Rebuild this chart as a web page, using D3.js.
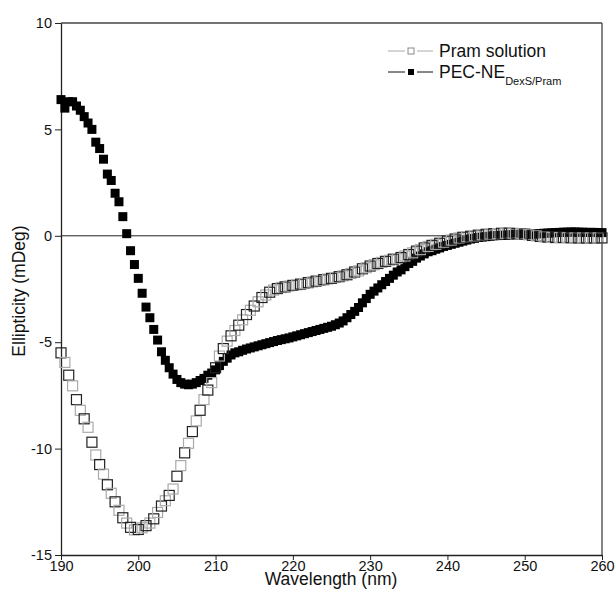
<html>
    <head>
        <meta charset="utf-8">
        <style>
            body { margin: 0; background: #fff; }
            text { font-family: "Liberation Sans", Arial, sans-serif; fill: #111; }
        </style>
        <script src="https://d3js.org/d3.v7.min.js"></script>
    </head>
    <body>
        <svg width="616" height="590"></svg>
        <script>
            // wavelength grid, one reading every 0.5 nm
            const wavelengths = d3.range(190, 260.25, 0.5);

            // PEC-NE DexS/Pram (filled squares), rows of 5 nm
            const pecValues = [
                6.4, 6.0, 6.3, 6.3, 6.1, 5.9, 5.6, 5.3, 5.0, 4.4,
                4.1, 3.6, 2.9, 2.6, 2.0, 1.6, 0.9, 0.1, -0.7, -1.35,
                -2.0, -2.7, -3.35, -3.85, -4.4, -4.9, -5.45, -5.85, -6.2, -6.5,
                -6.75, -6.9, -6.97, -7.0, -6.97, -6.9, -6.8, -6.7, -6.55, -6.45,
                -6.3, -6.1, -5.9, -5.75, -5.6, -5.5, -5.45, -5.38, -5.32, -5.27,
                -5.22, -5.17, -5.12, -5.07, -5.02, -4.97, -4.92, -4.88, -4.84, -4.8,
                -4.75, -4.7, -4.65, -4.6, -4.55, -4.5, -4.45, -4.4, -4.35, -4.3,
                -4.25, -4.18, -4.1, -4.0, -3.85, -3.7, -3.55, -3.37, -3.15, -2.95,
                -2.75, -2.6, -2.45, -2.3, -2.15, -2.0, -1.85, -1.7, -1.6, -1.45,
                -1.3, -1.2, -1.05, -0.95, -0.85, -0.75, -0.7, -0.63, -0.57, -0.5,
                -0.45, -0.4, -0.35, -0.3, -0.25, -0.2, -0.15, -0.12, -0.08, -0.06,
                -0.04, -0.02, 0.0, 0.01, 0.02, 0.03, 0.04, 0.05, 0.05, 0.06,
                0.06, 0.07, 0.08, 0.09, 0.1, 0.12, 0.13, 0.14, 0.15, 0.16,
                0.17, 0.17, 0.18, 0.18, 0.17, 0.17, 0.16, 0.16, 0.16, 0.15,
                0.15
            ];

            // Pram solution (open squares)
            const pramValues = [
                -5.5, -5.95, -6.55, -7.05, -7.7, -8.2, -8.6, -9.0, -9.7, -10.3,
                -10.75, -11.2, -11.7, -12.1, -12.5, -12.9, -13.25, -13.5, -13.7, -13.82,
                -13.8, -13.72, -13.62, -13.5, -13.3, -13.0, -12.7, -12.45, -12.2, -11.9,
                -11.3, -10.8, -10.2, -9.75, -9.2, -8.7, -8.2, -7.7, -7.25, -6.9,
                -6.2, -5.65, -5.3, -4.95, -4.7, -4.45, -4.2, -3.95, -3.7, -3.5,
                -3.3, -3.1, -2.9, -2.78, -2.65, -2.55, -2.48, -2.43, -2.4, -2.36,
                -2.33, -2.3, -2.27, -2.24, -2.2, -2.17, -2.13, -2.1, -2.06, -2.03,
                -2.0, -1.96, -1.92, -1.88, -1.83, -1.77, -1.7, -1.65, -1.55, -1.5,
                -1.42, -1.36, -1.3, -1.25, -1.2, -1.15, -1.1, -1.07, -1.02, -0.95,
                -0.88, -0.8, -0.72, -0.65, -0.57, -0.5, -0.45, -0.4, -0.35, -0.3,
                -0.25, -0.2, -0.15, -0.1, -0.07, -0.04, -0.02, 0.0, 0.03, 0.05,
                0.07, 0.08, 0.1, 0.1, 0.12, 0.12, 0.12, 0.12, 0.1, 0.1,
                0.08, 0.05, 0.02, 0.0, -0.03, -0.05, -0.06, -0.08, -0.08, -0.08,
                -0.08, -0.09, -0.09, -0.1, -0.1, -0.1, -0.1, -0.1, -0.1, -0.1,
                -0.1
            ];

            const xTicks = [190, 200, 210, 220, 230, 240, 250, 260];
            const yTicks = [-15, -10, -5, 0, 5, 10];

            const svg = d3.select('svg');
            const plotL = 61, plotR = 602, plotT = 23, plotB = 555;

            const x = d3.scaleLinear().domain([190, 260]).range([plotL, plotR]);
            const y = d3.scaleLinear().domain([-15, 10]).range([plotB, plotT]);

            // frame top + right
            svg.append('line').attr('x1', plotL).attr('x2', plotR).attr('y1', plotT).attr('y2', plotT)
                .attr('stroke', '#444').attr('stroke-width', 1.5);
            svg.append('line').attr('x1', plotR).attr('x2', plotR).attr('y1', plotT).attr('y2', plotB)
                .attr('stroke', '#444').attr('stroke-width', 1.3);

            // zero line
            svg.append('line').attr('x1', plotL).attr('x2', plotR).attr('y1', y(0)).attr('y2', y(0))
                .attr('stroke', '#222').attr('stroke-width', 1);

            // axes (plain hyphen for negatives, like the original)
            const fmt = d => String(d);
            const xAxis = svg.append('g').attr('transform', `translate(0,${plotB})`)
                .call(d3.axisBottom(x).tickValues(xTicks).tickFormat(fmt).tickSize(5).tickPadding(1).tickSizeOuter(0));
            const yAxis = svg.append('g').attr('transform', `translate(${plotL},0)`)
                .call(d3.axisLeft(y).tickValues(yTicks).tickFormat(fmt).tickSize(6).tickPadding(3).tickSizeOuter(0));
            [xAxis, yAxis].forEach(g => {
                g.select('.domain').attr('stroke', '#222').attr('stroke-width', 1.3);
                g.selectAll('.tick line').attr('stroke', '#222');
                g.selectAll('.tick text').attr('font-size', 14.5).attr('font-family', '"Liberation Sans", Arial, sans-serif').attr('fill', '#111');
            });

            // filled squares first
            const fs = 9;
            svg.append('g').selectAll('rect')
                .data(wavelengths.map((w, i) => [w, pecValues[i]]))
                .join('rect')
                .attr('x', d => x(d[0]) - fs / 2)
                .attr('y', d => y(d[1]) - fs / 2)
                .attr('width', fs).attr('height', fs)
                .attr('fill', '#000');

            // open squares on top
            const os = 10;
            svg.append('g').selectAll('rect')
                .data(wavelengths.map((w, i) => [w, pramValues[i]]))
                .join('rect')
                .attr('x', d => x(d[0]) - os / 2)
                .attr('y', d => y(d[1]) - os / 2)
                .attr('width', os).attr('height', os)
                .attr('fill', 'none')
                .attr('stroke', (d, i) => i % 2 ? '#aaa' : '#222')
                .attr('stroke-width', 1.2);

            // legend
            const lg = svg.append('g');
            lg.append('line').attr('x1', 388).attr('x2', 405).attr('y1', 51).attr('y2', 51)
                .attr('stroke', '#aaa').attr('stroke-width', 1);
            lg.append('line').attr('x1', 417).attr('x2', 433).attr('y1', 51).attr('y2', 51)
                .attr('stroke', '#aaa').attr('stroke-width', 1);
            lg.append('rect').attr('x', 408).attr('y', 48).attr('width', 6).attr('height', 6)
                .attr('fill', '#fff').attr('stroke', '#888').attr('stroke-width', 1);
            lg.append('text').attr('x', 439).attr('y', 57).attr('font-size', 17.5).text('Pram solution');

            lg.append('line').attr('x1', 388).attr('x2', 405).attr('y1', 72).attr('y2', 72)
                .attr('stroke', '#111').attr('stroke-width', 1);
            lg.append('line').attr('x1', 417).attr('x2', 433).attr('y1', 72).attr('y2', 72)
                .attr('stroke', '#111').attr('stroke-width', 1);
            lg.append('rect').attr('x', 408).attr('y', 69).attr('width', 6).attr('height', 6)
                .attr('fill', '#000');
            const t2 = lg.append('text').attr('x', 439).attr('y', 78).attr('font-size', 17.5);
            t2.append('tspan').text('PEC-NE');
            t2.append('tspan').attr('dy', 7).attr('font-size', 11).text('DexS/Pram');

            // axis titles
            svg.append('text').attr('x', 331).attr('y', 585)
                .attr('text-anchor', 'middle').attr('font-size', 17.5).text('Wavelength (nm)');
            svg.append('text').attr('transform', 'translate(25,291) rotate(-90)')
                .attr('text-anchor', 'middle').attr('font-size', 17.5).text('Ellipticity (mDeg)');
        </script>
    </body>
</html>
